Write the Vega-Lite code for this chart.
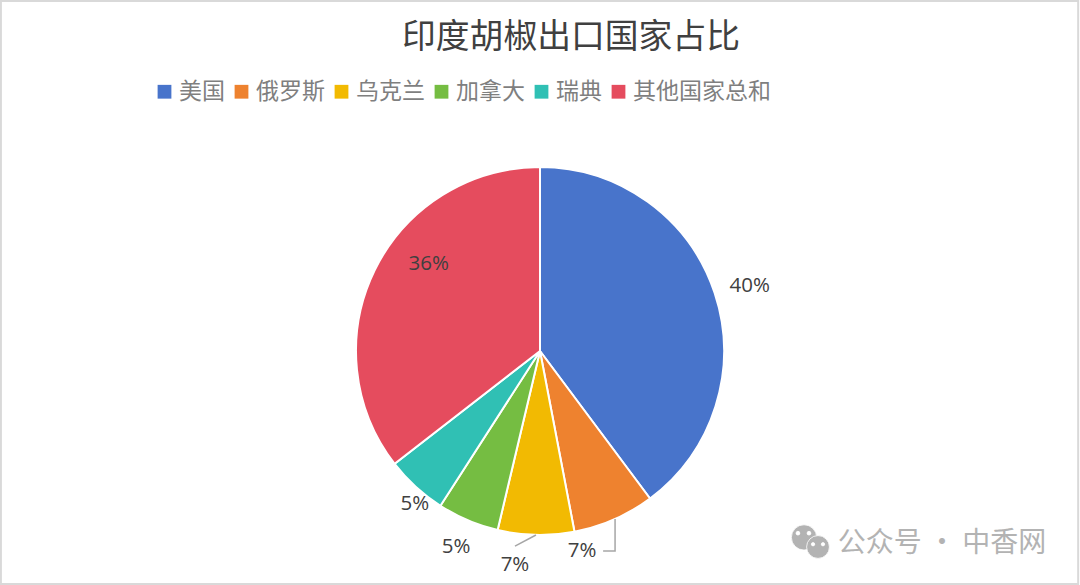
{
"$schema":"https://vega.github.io/schema/vega-lite/v6.json",
"width":1080,"height":470,
"autosize":{"type":"none"},
"padding":{"left":0,"right":0,"top":116,"bottom":0},
"background":"white",
"config":{"view":{"stroke":null},"font":"Noto Sans CJK SC"},
"title":{"text":"印度胡椒出口国家占比","font":"Noto Sans CJK SC","fontSize":33.8,"fontWeight":"normal","color":"#404040","anchor":"middle","dx":31,"offset":-55},
"datasets":{
"slices":[
{"cat":"美国","share":39.8,"label":"40%","rank":1},
{"cat":"俄罗斯","share":7.2,"label":"7%","rank":2},
{"cat":"乌克兰","share":6.7,"label":"7%","rank":3},
{"cat":"加拿大","share":5.4,"label":"5%","rank":4},
{"cat":"瑞典","share":5.4,"label":"5%","rank":5},
{"cat":"其他国家总和","share":35.5,"label":"36%","rank":6}],
"leaders":[
{"id":"a","seq":1,"px":0.408,"py":-0.913},
{"id":"a","seq":2,"px":0.408,"py":-1.087},
{"id":"a","seq":3,"px":0.343,"py":-1.087},
{"id":"b","seq":1,"px":-0.022,"py":-1.0},
{"id":"b","seq":2,"px":-0.136,"py":-1.06}],
"frame":[{"x0":-2.93,"x1":2.925,"y0":-1.266,"y1":1.902}],
"bubbles":[
{"px":1.435,"py":-1.013,"s":640,"c":"a"},
{"px":1.511,"py":-1.065,"s":520,"c":"a"},
{"px":1.402,"py":-0.99,"s":14,"c":"b"},
{"px":1.462,"py":-0.99,"s":14,"c":"b"},
{"px":1.484,"py":-1.05,"s":11,"c":"b"},
{"px":1.538,"py":-1.05,"s":11,"c":"b"}],
"mark":[{"px":2.185,"py":-1.048,"t":"公众号 · 中香网"}]
},
"layer":[
{"data":{"name":"frame"},"mark":{"type":"rect","fillOpacity":0,"stroke":"#d9d9d9","strokeWidth":2},
 "encoding":{"x":{"field":"x0","type":"quantitative","axis":null,"scale":{"domain":[-2.935,2.935],"nice":false,"zero":false}},"x2":{"field":"x1"},
 "y":{"field":"y0","type":"quantitative","axis":null,"scale":{"domain":[-1.277,1.277],"nice":false,"zero":false}},"y2":{"field":"y1"}}},
{"data":{"name":"slices"},"mark":{"type":"arc","outerRadius":184,"stroke":"white","strokeWidth":2},
 "encoding":{"theta":{"field":"share","type":"quantitative","stack":true},
 "order":{"field":"rank"},
 "color":{"field":"cat","type":"nominal","sort":["美国","俄罗斯","乌克兰","加拿大","瑞典","其他国家总和"],
  "scale":{"domain":["美国","俄罗斯","乌克兰","加拿大","瑞典","其他国家总和"],"range":["#4874cb","#ee822f","#f2ba02","#75bd42","#30c0b4","#e54c5e"]},
  "legend":{"title":null,"orient":"none","direction":"horizontal","columns":6,"legendX":153,"legendY":-36,"symbolType":"square","symbolSize":190,"symbolStrokeWidth":0,"labelFont":"Noto Sans CJK SC","labelFontSize":23,"labelColor":"#7f7f7f","labelOffset":3,"columnPadding":5,"padding":0}}}},
{"data":{"name":"slices"},"mark":{"type":"text","radius":184,"dx":35,"dy":-7,"font":"Open Sans","fontSize":20.5,"fill":"#404040"},
 "encoding":{"theta":{"field":"share","type":"quantitative","stack":true},"order":{"field":"rank"},"detail":{"field":"cat"},"text":{"condition":{"test":"datum.cat==='美国'","field":"label"},"value":""}}},
{"data":{"name":"slices"},"mark":{"type":"text","radius":184,"dx":-32,"dy":32,"font":"Open Sans","fontSize":20.5,"fill":"#404040"},
 "encoding":{"theta":{"field":"share","type":"quantitative","stack":true},"order":{"field":"rank"},"detail":{"field":"cat"},"text":{"condition":{"test":"datum.cat==='俄罗斯'","field":"label"},"value":""}}},
{"data":{"name":"slices"},"mark":{"type":"text","radius":184,"dx":-21,"dy":30,"font":"Open Sans","fontSize":20.5,"fill":"#404040"},
 "encoding":{"theta":{"field":"share","type":"quantitative","stack":true},"order":{"field":"rank"},"detail":{"field":"cat"},"text":{"condition":{"test":"datum.cat==='乌克兰'","field":"label"},"value":""}}},
{"data":{"name":"slices"},"mark":{"type":"text","radius":184,"dx":-12,"dy":27,"font":"Open Sans","fontSize":20.5,"fill":"#404040"},
 "encoding":{"theta":{"field":"share","type":"quantitative","stack":true},"order":{"field":"rank"},"detail":{"field":"cat"},"text":{"condition":{"test":"datum.cat==='加拿大'","field":"label"},"value":""}}},
{"data":{"name":"slices"},"mark":{"type":"text","radius":184,"dx":-1,"dy":17,"font":"Open Sans","fontSize":20.5,"fill":"#404040"},
 "encoding":{"theta":{"field":"share","type":"quantitative","stack":true},"order":{"field":"rank"},"detail":{"field":"cat"},"text":{"condition":{"test":"datum.cat==='瑞典'","field":"label"},"value":""}}},
{"data":{"name":"slices"},"mark":{"type":"text","radius":184,"dx":54,"dy":-6,"font":"Open Sans","fontSize":20.5,"fill":"#404040"},
 "encoding":{"theta":{"field":"share","type":"quantitative","stack":true},"order":{"field":"rank"},"detail":{"field":"cat"},"text":{"condition":{"test":"datum.cat==='其他国家总和'","field":"label"},"value":""}}},
{"data":{"name":"leaders"},"mark":{"type":"line","stroke":"#a6a6a6","strokeWidth":1.5},
 "encoding":{"x":{"field":"px","type":"quantitative"},"y":{"field":"py","type":"quantitative"},"detail":{"field":"id"},"order":{"field":"seq"}}},
{"data":{"name":"bubbles"},"mark":{"type":"point","filled":true,"shape":"circle","opacity":1,"stroke":"white","strokeWidth":0.8},
 "encoding":{"x":{"field":"px","type":"quantitative"},"y":{"field":"py","type":"quantitative"},"size":{"field":"s","type":"quantitative","legend":null,"scale":{"domain":[0,1000],"range":[0,1000]}},
 "fill":{"field":"c","type":"nominal","legend":null,"scale":{"domain":["a","b"],"range":["#b3b3b3","#ffffff"]}}}},
{"data":{"name":"mark"},"mark":{"type":"text","font":"Noto Sans CJK SC","fontSize":28,"fill":"#b3b3b3"},
 "encoding":{"x":{"field":"px","type":"quantitative"},"y":{"field":"py","type":"quantitative"},"text":{"field":"t"}}}
]
}
